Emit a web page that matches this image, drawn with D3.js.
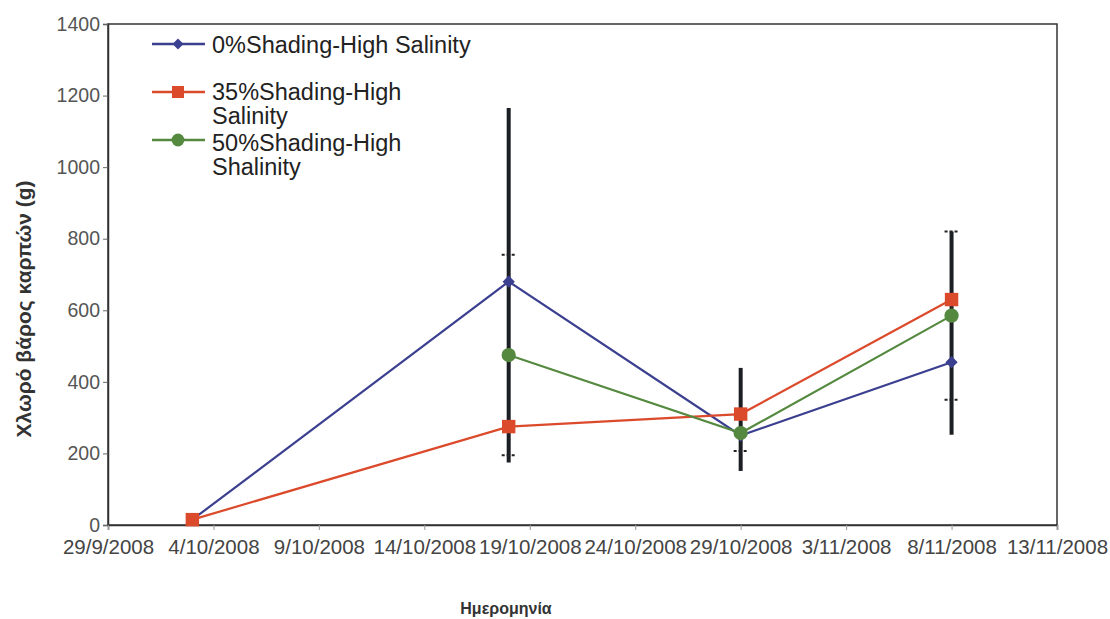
<!DOCTYPE html>
<html>
<head>
<meta charset="utf-8">
<script src="https://cdn.jsdelivr.net/npm/d3@7"></script>
<style>
  body { margin: 0; background: #fff; }
  text { font-family: "Liberation Sans", Arial, sans-serif; }
</style>
</head>
<body>
<div id="chart"></div>
<script>
// chart data
const dates = ["3/10/2008", "18/10/2008", "29/10/2008", "8/11/2008"]
const shade0 = [15, 680, 250, 455]
const shade35 = [15, 275, 310, 630]
const shade50 = [null, 475, 257, 585]
// thick black error bars (low / high) per date
const errLow = [null, 175, 151, 252]
const errHigh = [null, 1165, 439, 820]
// thin capped error of the 50% series
const err50 = [null, 280, 50, 235]
const xTicks = ["29/9/2008", "4/10/2008", "9/10/2008", "14/10/2008", "19/10/2008",
    "24/10/2008", "29/10/2008", "3/11/2008", "8/11/2008", "13/11/2008"]
const yTicks = [0, 200, 400, 600, 800, 1000, 1200, 1400]

let width = 1110
let height = 619
let margin = { left: 108, right: 53, top: 24, bottom: 94 }

let parse = d3.timeParse("%d/%m/%Y")

var svg = d3.select("#chart")
    .append("svg")
    .attr("width", width)
    .attr("height", height)

var x = d3.scaleTime()
    .domain([parse("29/9/2008"), parse("13/11/2008")])
    .range([margin.left, width - margin.right])

var y = d3.scaleLinear()
    .domain([0, 1400])
    .range([height - margin.bottom, margin.top])

// plot frame
svg.append("rect")
    .attr("x", margin.left)
    .attr("y", margin.top)
    .attr("width", width - margin.left - margin.right)
    .attr("height", height - margin.top - margin.bottom)
    .attr("fill", "none")
    .attr("stroke", "#333")
    .attr("stroke-width", 1.5)

// y axis
var yAxis = svg.append("g")
    .attr("transform", "translate(" + margin.left + ",0)")
    .call(d3.axisLeft(y).tickValues(yTicks).tickSize(5).tickPadding(3).tickFormat(d3.format("d")))
yAxis.select(".domain").attr("stroke", "#333").attr("stroke-width", 1.5)
yAxis.selectAll(".tick line").attr("stroke", "#666")
yAxis.selectAll("text").style("font-size", "19.5px").attr("fill", "#555")

// x axis
var xAxis = svg.append("g")
    .attr("transform", "translate(0," + (height - margin.bottom) + ")")
    .call(d3.axisBottom(x).tickValues(xTicks.map(parse)).tickSize(5).tickPadding(9).tickFormat(d3.timeFormat("%-d/%-m/%Y")))
xAxis.select(".domain").attr("stroke", "#333").attr("stroke-width", 1.5)
xAxis.selectAll(".tick line").attr("stroke", "#999")
xAxis.selectAll("text").style("font-size", "20.5px").attr("fill", "#444")

// axis titles
svg.append("text")
    .attr("transform", "translate(31,309) rotate(-90)")
    .attr("text-anchor", "middle")
    .style("font-size", "21px")
    .style("font-weight", "bold")
    .attr("fill", "#333")
    .text("Χλωρό βάρος  καρπών (g)")

svg.append("text")
    .attr("x", 506)
    .attr("y", 614)
    .attr("text-anchor", "middle")
    .style("font-size", "16px")
    .style("font-weight", "bold")
    .attr("fill", "#333")
    .text("Ημερομηνία")

// thick error bars
dates.forEach(function (d, i) {
    if (errLow[i] == null) return
    svg.append("line")
        .attr("x1", x(parse(d))).attr("x2", x(parse(d)))
        .attr("y1", y(errLow[i])).attr("y2", y(errHigh[i]))
        .attr("stroke", "#1b1f24")
        .attr("stroke-width", 4)
})

// thin capped error bars for 50% series
dates.forEach(function (d, i) {
    if (err50[i] == null) return
    let cx = x(parse(d))
    ;[shade50[i] - err50[i], shade50[i] + err50[i]].forEach(function (v) {
        svg.append("line")
            .attr("x1", cx - 7).attr("x2", cx + 7)
            .attr("y1", y(v)).attr("y2", y(v))
            .attr("stroke", "#222")
            .attr("stroke-width", 2)
            .attr("stroke-dasharray", "3,2")
    })
})

var diamond = {
    draw: function (ctx, size) {
        let r = Math.sqrt(size) / 2 * Math.SQRT2
        ctx.moveTo(0, -r); ctx.lineTo(r, 0); ctx.lineTo(0, r); ctx.lineTo(-r, 0); ctx.closePath()
    }
}

var series = [
    { name: "0%Shading-High Salinity", values: shade0, color: "#3b3f8f", shape: diamond, size: 75 },
    { name: "35%Shading-High Salinity", values: shade35, color: "#dc4a2c", shape: d3.symbolSquare, size: 180 },
    { name: "50%Shading-High Shalinity", values: shade50, color: "#55893f", shape: d3.symbolCircle, size: 160 }
]

var line = d3.line()
    .defined(function (d) { return d.v != null })
    .x(function (d) { return x(parse(d.date)) })
    .y(function (d) { return y(d.v) })

series.forEach(function (s) {
    let pts = dates.map(function (d, i) { return { date: d, v: s.values[i] } })
    svg.append("path")
        .attr("d", line(pts))
        .attr("fill", "none")
        .attr("stroke", s.color)
        .attr("stroke-width", 2.2)
    svg.selectAll(null)
        .data(pts.filter(function (p) { return p.v != null }))
        .enter()
        .append("path")
        .attr("d", d3.symbol().type(s.shape).size(s.size))
        .attr("transform", function (p) { return "translate(" + x(parse(p.date)) + "," + y(p.v) + ")" })
        .attr("fill", s.color)
})

// legend
var legendRows = [
    { lines: ["0%Shading-High Salinity"], y: 44, ty: 53 },
    { lines: ["35%Shading-High", "Salinity"], y: 92, ty: 100 },
    { lines: ["50%Shading-High", "Shalinity"], y: 140, ty: 151 }
]
legendRows.forEach(function (r, i) {
    let s = series[i]
    svg.append("line")
        .attr("x1", 152).attr("x2", 205)
        .attr("y1", r.y).attr("y2", r.y)
        .attr("stroke", s.color)
        .attr("stroke-width", 2.5)
    svg.append("path")
        .attr("d", d3.symbol().type(s.shape).size(s.size * 0.8))
        .attr("transform", "translate(178," + r.y + ")")
        .attr("fill", s.color)
    let t = svg.append("text")
        .attr("x", 212)
        .attr("y", r.ty)
        .style("font-size", "23.5px")
        .attr("fill", "#222")
    r.lines.forEach(function (l, j) {
        t.append("tspan").attr("x", 212).attr("dy", j == 0 ? 0 : 24).text(l)
    })
})
</script>
</body>
</html>
